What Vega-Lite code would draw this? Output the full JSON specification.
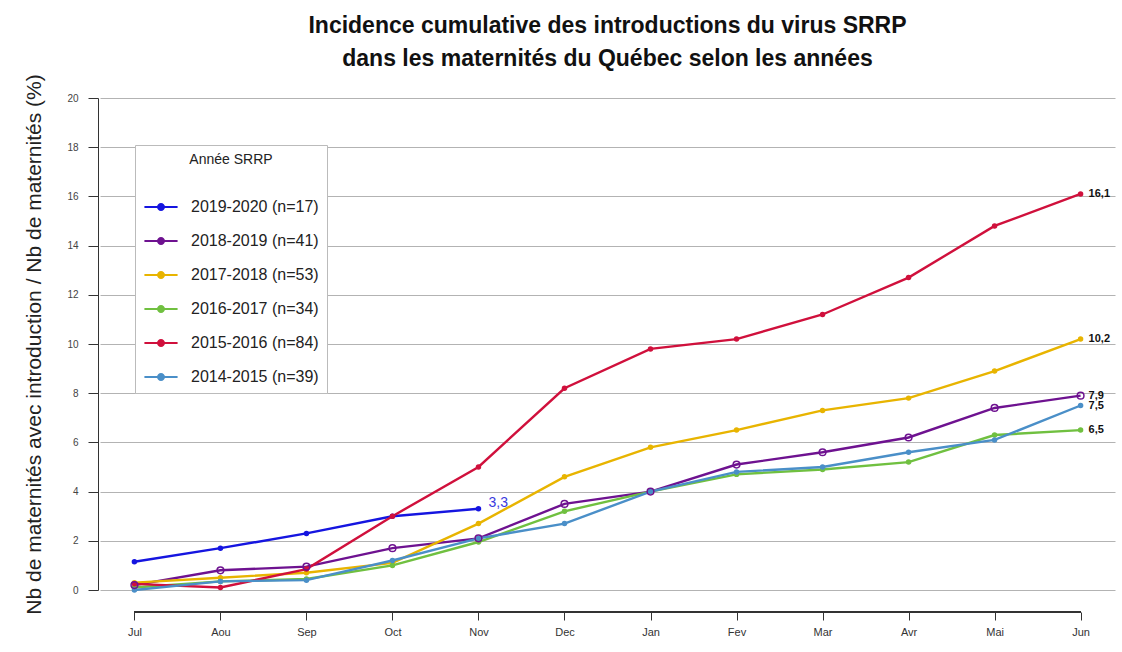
{
  "$schema": "https://vega.github.io/schema/vega-lite/v6.json",
  "autosize": {"type": "none"},
  "width": 1015,
  "height": 492,
  "padding": {"left": 100, "top": 98, "right": 7, "bottom": 62},
  "background": "white",
  "title": {
    "text": ["Incidence cumulative des introductions du virus SRRP", "dans les maternités du Québec selon les années"],
    "font": "Liberation Sans",
    "fontSize": 23,
    "fontWeight": "bold",
    "color": "#111",
    "lineHeight": 33,
    "anchor": "middle",
    "frame": "group",
    "offset": 3
  },
  "config": {
    "view": {"stroke": null},
    "font": "Liberation Sans"
  },
  "data": {
    "values": [
      {"yr": "2019-2020 (n=17)", "m": "Jul", "v": 1.15},
      {"yr": "2019-2020 (n=17)", "m": "Aou", "v": 1.7},
      {"yr": "2019-2020 (n=17)", "m": "Sep", "v": 2.3},
      {"yr": "2019-2020 (n=17)", "m": "Oct", "v": 3.0},
      {"yr": "2019-2020 (n=17)", "m": "Nov", "v": 3.3, "lab": "3,3"},
      {"yr": "2018-2019 (n=41)", "m": "Jul", "v": 0.2},
      {"yr": "2018-2019 (n=41)", "m": "Aou", "v": 0.8},
      {"yr": "2018-2019 (n=41)", "m": "Sep", "v": 0.95},
      {"yr": "2018-2019 (n=41)", "m": "Oct", "v": 1.7},
      {"yr": "2018-2019 (n=41)", "m": "Nov", "v": 2.1},
      {"yr": "2018-2019 (n=41)", "m": "Dec", "v": 3.5},
      {"yr": "2018-2019 (n=41)", "m": "Jan", "v": 4.0},
      {"yr": "2018-2019 (n=41)", "m": "Fev", "v": 5.1},
      {"yr": "2018-2019 (n=41)", "m": "Mar", "v": 5.6},
      {"yr": "2018-2019 (n=41)", "m": "Avr", "v": 6.2},
      {"yr": "2018-2019 (n=41)", "m": "Mai", "v": 7.4},
      {"yr": "2018-2019 (n=41)", "m": "Jun", "v": 7.9, "lab": "7,9"},
      {"yr": "2017-2018 (n=53)", "m": "Jul", "v": 0.3},
      {"yr": "2017-2018 (n=53)", "m": "Aou", "v": 0.5},
      {"yr": "2017-2018 (n=53)", "m": "Sep", "v": 0.7},
      {"yr": "2017-2018 (n=53)", "m": "Oct", "v": 1.1},
      {"yr": "2017-2018 (n=53)", "m": "Nov", "v": 2.7},
      {"yr": "2017-2018 (n=53)", "m": "Dec", "v": 4.6},
      {"yr": "2017-2018 (n=53)", "m": "Jan", "v": 5.8},
      {"yr": "2017-2018 (n=53)", "m": "Fev", "v": 6.5},
      {"yr": "2017-2018 (n=53)", "m": "Mar", "v": 7.3},
      {"yr": "2017-2018 (n=53)", "m": "Avr", "v": 7.8},
      {"yr": "2017-2018 (n=53)", "m": "Mai", "v": 8.9},
      {"yr": "2017-2018 (n=53)", "m": "Jun", "v": 10.2, "lab": "10,2"},
      {"yr": "2016-2017 (n=34)", "m": "Jul", "v": 0.1},
      {"yr": "2016-2017 (n=34)", "m": "Aou", "v": 0.35},
      {"yr": "2016-2017 (n=34)", "m": "Sep", "v": 0.45},
      {"yr": "2016-2017 (n=34)", "m": "Oct", "v": 1.0},
      {"yr": "2016-2017 (n=34)", "m": "Nov", "v": 1.95},
      {"yr": "2016-2017 (n=34)", "m": "Dec", "v": 3.2},
      {"yr": "2016-2017 (n=34)", "m": "Jan", "v": 4.0},
      {"yr": "2016-2017 (n=34)", "m": "Fev", "v": 4.7},
      {"yr": "2016-2017 (n=34)", "m": "Mar", "v": 4.9},
      {"yr": "2016-2017 (n=34)", "m": "Avr", "v": 5.2},
      {"yr": "2016-2017 (n=34)", "m": "Mai", "v": 6.3},
      {"yr": "2016-2017 (n=34)", "m": "Jun", "v": 6.5, "lab": "6,5"},
      {"yr": "2015-2016 (n=84)", "m": "Jul", "v": 0.25},
      {"yr": "2015-2016 (n=84)", "m": "Aou", "v": 0.1},
      {"yr": "2015-2016 (n=84)", "m": "Sep", "v": 0.85},
      {"yr": "2015-2016 (n=84)", "m": "Oct", "v": 3.0},
      {"yr": "2015-2016 (n=84)", "m": "Nov", "v": 5.0},
      {"yr": "2015-2016 (n=84)", "m": "Dec", "v": 8.2},
      {"yr": "2015-2016 (n=84)", "m": "Jan", "v": 9.8},
      {"yr": "2015-2016 (n=84)", "m": "Fev", "v": 10.2},
      {"yr": "2015-2016 (n=84)", "m": "Mar", "v": 11.2},
      {"yr": "2015-2016 (n=84)", "m": "Avr", "v": 12.7},
      {"yr": "2015-2016 (n=84)", "m": "Mai", "v": 14.8},
      {"yr": "2015-2016 (n=84)", "m": "Jun", "v": 16.1, "lab": "16,1"},
      {"yr": "2014-2015 (n=39)", "m": "Jul", "v": 0.0},
      {"yr": "2014-2015 (n=39)", "m": "Aou", "v": 0.35},
      {"yr": "2014-2015 (n=39)", "m": "Sep", "v": 0.4},
      {"yr": "2014-2015 (n=39)", "m": "Oct", "v": 1.2},
      {"yr": "2014-2015 (n=39)", "m": "Nov", "v": 2.1},
      {"yr": "2014-2015 (n=39)", "m": "Dec", "v": 2.7},
      {"yr": "2014-2015 (n=39)", "m": "Jan", "v": 4.0},
      {"yr": "2014-2015 (n=39)", "m": "Fev", "v": 4.8},
      {"yr": "2014-2015 (n=39)", "m": "Mar", "v": 5.0},
      {"yr": "2014-2015 (n=39)", "m": "Avr", "v": 5.6},
      {"yr": "2014-2015 (n=39)", "m": "Mai", "v": 6.1},
      {"yr": "2014-2015 (n=39)", "m": "Jun", "v": 7.5, "lab": "7,5"}
    ]
  },
  "encoding": {
    "x": {
      "field": "m",
      "type": "ordinal",
      "sort": ["Jul", "Aou", "Sep", "Oct", "Nov", "Dec", "Jan", "Fev", "Mar", "Avr", "Mai", "Jun"],
      "scale": {"type": "point", "padding": 0.4},
      "axis": {
        "title": null,
        "labelAngle": 0,
        "offset": 22,
        "domain": false,
        "tickColor": "#333",
        "tickSize": 8,
        "labelFont": "Liberation Sans",
        "labelFontSize": 11,
        "labelColor": "#333",
        "labelPadding": 6,
        "grid": false
      }
    },
    "y": {
      "field": "v",
      "type": "quantitative",
      "scale": {"domain": [0, 20], "nice": false},
      "axis": {
        "title": "Nb de maternités avec introduction / Nb de maternités (%)",
        "titleFont": "Liberation Sans",
        "titleFontSize": 21,
        "titleFontWeight": "normal",
        "titleColor": "#222",
        "titlePadding": 22,
        "values": [0, 2, 4, 6, 8, 10, 12, 14, 16, 18, 20],
        "offset": 2,
        "domainColor": "#333",
        "tickColor": "#333",
        "tickSize": 10,
        "labelFontSize": 10,
        "labelColor": "#444",
        "labelPadding": 10,
        "grid": true,
        "gridColor": "#b3b3b3",
        "gridWidth": 1.2
      }
    },
    "color": {
      "field": "yr",
      "type": "nominal",
      "scale": {
        "domain": ["2019-2020 (n=17)", "2018-2019 (n=41)", "2017-2018 (n=53)", "2016-2017 (n=34)", "2015-2016 (n=84)", "2014-2015 (n=39)"],
        "range": ["#1515e0", "#6e1290", "#e8b400", "#70c040", "#d0103c", "#4a8fc8"]
      },
      "legend": {
        "title": "Année SRRP",
        "orient": "none",
        "legendX": 35,
        "legendY": 47,
        "direction": "vertical",
        "fillColor": "white",
        "strokeColor": "#bbbbbb",
        "padding": 8,
        "titleAnchor": "middle",
        "titleFont": "Liberation Sans",
        "titleFontSize": 14,
        "titleFontWeight": "normal",
        "titleColor": "#222",
        "titlePadding": 22,
        "labelFont": "Liberation Sans",
        "labelFontSize": 16,
        "labelColor": "#222",
        "labelOffset": 12,
        "rowPadding": 8,
        "symbolType": "M-1,0H1M-0.18,0a0.18,0.18 0 1,0 0.36,0a0.18,0.18 0 1,0 -0.36,0",
        "symbolSize": 1100,
        "symbolStrokeWidth": 2
      }
    }
  },
  "layer": [
    {
      "mark": {"type": "rule", "color": "#333", "strokeWidth": 1, "yOffset": 22},
      "encoding": {
        "x": {"datum": "Jul"},
        "x2": {"datum": "Jun"},
        "y": {"datum": 0},
        "color": null
      }
    },
    {
      "mark": {"type": "line", "strokeWidth": 2.4}
    },
    {
      "transform": [{"filter": "datum.yr != '2018-2019 (n=41)'"}],
      "mark": {"type": "point", "filled": true, "size": 30, "opacity": 1}
    },
    {
      "transform": [{"filter": "datum.yr == '2018-2019 (n=41)'"}],
      "mark": {"type": "point", "filled": false, "size": 45, "strokeWidth": 1.5, "opacity": 1}
    },
    {
      "transform": [{"filter": "datum.lab != null && datum.yr != '2019-2020 (n=17)'"}],
      "mark": {"type": "text", "align": "left", "dx": 8, "fontSize": 11, "fontWeight": "bold"},
      "encoding": {"text": {"field": "lab"}, "color": {"value": "#111"}}
    },
    {
      "transform": [{"filter": "datum.yr == '2019-2020 (n=17)' && datum.lab != null"}],
      "mark": {"type": "text", "align": "left", "dx": 10, "dy": -6, "fontSize": 14},
      "encoding": {"text": {"field": "lab"}, "color": {"value": "#3a3ae0"}}
    }
  ]
}
